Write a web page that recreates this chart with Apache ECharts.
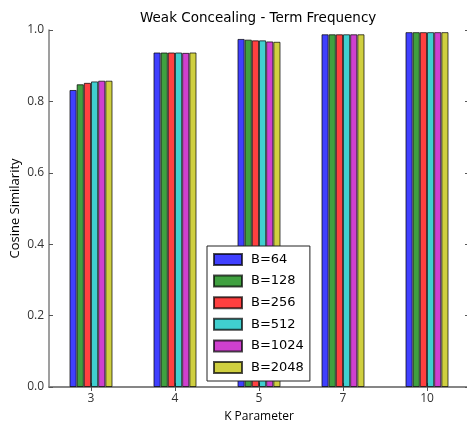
<!DOCTYPE html>
<html>
<head>
<meta charset="utf-8">
<script src="https://cdn.jsdelivr.net/npm/echarts@6/dist/echarts.min.js"></script>
<style>
  html, body { margin: 0; padding: 0; background: #ffffff; }
  #chart { width: 467px; height: 421px; }
</style>
</head>
<body>
<div id="chart"></div>
<script>
// Categories on the K axis
const kValues = ['3', '4', '5', '7', '10'];

// Cosine similarity per block size B
const b64   = [0.832, 0.937, 0.975, 0.988, 0.994];
const b128  = [0.848, 0.937, 0.973, 0.988, 0.994];
const b256  = [0.852, 0.937, 0.971, 0.988, 0.994];
const b512  = [0.856, 0.937, 0.971, 0.988, 0.994];
const b1024 = [0.858, 0.936, 0.968, 0.988, 0.994];
const b2048 = [0.858, 0.937, 0.967, 0.988, 0.994];

const seriesNames = ['B=64', 'B=128', 'B=256', 'B=512', 'B=1024', 'B=2048'];
const seriesData = [b64, b128, b256, b512, b1024, b2048];
const seriesColors = ['#4040ff', '#40a040', '#ff4040', '#40cfcf', '#cf40cf', '#cfcf40'];

const spine = { color: '#7f7f7f', width: 1.5 };
const tickFont = { fontFamily: 'Open Sans', fontSize: 12, color: '#333333' };

const chart = echarts.init(document.getElementById('chart'), null, { renderer: 'canvas' });

chart.setOption({
  animation: false,
  backgroundColor: '#ffffff',
  title: {
    text: 'Weak Concealing - Term Frequency',
    left: 140,
    top: 11,
    padding: 0,
    textStyle: { fontFamily: 'DejaVu Sans', fontSize: 13.5, fontWeight: 'normal', color: '#000000' }
  },
  grid: { left: 49, top: 30, width: 420, height: 357, containLabel: false, outerBoundsMode: 'none' },
  legend: {
    orient: 'vertical',
    left: 207,
    top: 246,
    data: seriesNames,
    icon: 'rect',
    itemWidth: 28,
    itemHeight: 11,
    itemGap: 8.6,
    padding: [7, 6, 7, 6],
    borderColor: '#222222',
    borderWidth: 1,
    backgroundColor: '#ffffff',
    textStyle: { fontFamily: 'DejaVu Sans', fontSize: 13, color: '#000000', padding: [0, 0, 0, 4] }
  },
  xAxis: [
    {
      type: 'category',
      data: kValues,
      position: 'bottom',
      name: 'K Parameter',
      nameLocation: 'middle',
      nameGap: 24,
      nameMoveOverlap: false,
      nameTextStyle: { fontFamily: 'Open Sans', fontSize: 12, color: '#000000' },
      axisLine: { show: true, lineStyle: spine },
      axisTick: { show: true, inside: true, alignWithLabel: true, length: 4, lineStyle: { color: '#555555' } },
      axisLabel: Object.assign({ margin: 6 }, tickFont),
      splitLine: { show: false }
    },
    {
      type: 'category',
      data: kValues,
      position: 'top',
      axisLine: { show: true, lineStyle: spine },
      axisTick: { show: true, inside: true, alignWithLabel: true, length: 4, lineStyle: { color: '#555555' } },
      axisLabel: { show: false },
      splitLine: { show: false }
    }
  ],
  yAxis: [
    {
      type: 'value',
      min: 0,
      max: 1,
      interval: 0.2,
      position: 'left',
      name: 'Cosine Similarity',
      nameLocation: 'middle',
      nameGap: 27,
      nameMoveOverlap: false,
      nameTextStyle: { fontFamily: 'Open Sans', fontSize: 13, color: '#000000' },
      axisLine: { show: true, lineStyle: spine },
      axisTick: { show: true, inside: true, length: 4, lineStyle: { color: '#555555' } },
      axisLabel: Object.assign({ margin: 5, formatter: v => v.toFixed(1) }, tickFont),
      splitLine: { show: false }
    },
    {
      type: 'value',
      min: 0,
      max: 1,
      interval: 0.2,
      position: 'right',
      axisLine: { show: true, lineStyle: spine },
      axisTick: { show: true, inside: true, length: 4, lineStyle: { color: '#555555' } },
      axisLabel: { show: false },
      splitLine: { show: false }
    }
  ],
  series: seriesNames.map((name, i) => ({
    name: name,
    type: 'bar',
    xAxisIndex: 0,
    yAxisIndex: 0,
    data: seriesData[i],
    barGap: '0%',
    barCategoryGap: '48.8%',
    itemStyle: {
      color: seriesColors[i],
      borderColor: 'rgba(0,0,0,0.7)',
      borderWidth: 1
    }
  }))
});
</script>
</body>
</html>
